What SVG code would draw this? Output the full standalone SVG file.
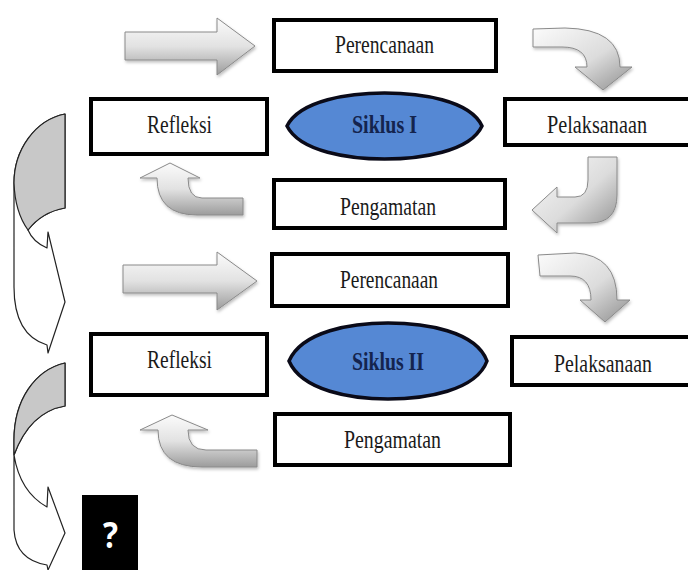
<svg xmlns="http://www.w3.org/2000/svg" width="688" height="570" viewBox="0 0 688 570">
  <defs>
    <linearGradient id="gv" x1="0" y1="0" x2="0" y2="1">
      <stop offset="0" stop-color="#fbfbfb"/>
      <stop offset="0.5" stop-color="#e2e2e2"/>
      <stop offset="1" stop-color="#9c9c9c"/>
    </linearGradient>
    <linearGradient id="gd" x1="0" y1="0" x2="1" y2="1">
      <stop offset="0" stop-color="#fbfbfb"/>
      <stop offset="0.55" stop-color="#dcdcdc"/>
      <stop offset="1" stop-color="#8f8f8f"/>
    </linearGradient>
    <filter id="sh" x="-20%" y="-20%" width="140%" height="150%">
      <feDropShadow dx="1" dy="2" stdDeviation="1.5" flood-color="#000" flood-opacity="0.25"/>
    </filter>
  </defs>
  <style>
    .box { fill: #ffffff; stroke: #000000; stroke-width: 4; }
    .lbl { font-family: "Liberation Serif", "Times New Roman", serif; font-size: 25px; fill: #1a1a1a; }
    .cyc { fill: #5588d4; stroke: #0a0a18; stroke-width: 3.5; }
    .cyct { font-family: "Liberation Serif", "Times New Roman", serif; font-size: 25px; font-weight: bold; fill: #14244e; }
    .blk { stroke: #8a8a8a; stroke-width: 1; stroke-linejoin: round; filter: url(#sh); }
    .side { fill: #ffffff; stroke: #222222; stroke-width: 1.2; stroke-linejoin: round; }
    .back { fill: #c8c8c8; stroke: #222222; stroke-width: 1.2; stroke-linejoin: round; }
  </style>
  <rect width="688" height="570" fill="#ffffff"/>

  <g id="connectors">
    <path class="blk" fill="url(#gv)" d="M125,32 L217,32 L217,18 L255,46 L217,75 L217,60 L125,60 Z"/>
    <path class="blk" fill="url(#gv)" d="M123,265 L217,265 L217,252 L257,281 L217,310 L217,293 L123,293 Z"/>
    <path class="blk" fill="url(#gd)" d="M533,29 L565,28 Q620,29 620,67 L632,67 L603,90 L575,67 L587,67 Q587,47 562,47 L533,47 Z"/>
    <path class="blk" fill="url(#gd)" d="M538,255 L575,253 Q617,255 617,300 L630,300 L605,322 L580,300 L591,300 Q591,276 570,276 L540,276 Z"/>
    <path class="blk" fill="url(#gd)" d="M588,157 L617,157 L617,195 Q617,223 590,223 L557,223 L557,233 L532,210 L557,187 L557,197 L575,197 Q588,197 588,180 Z"/>
    <path class="blk" fill="url(#gv)" d="M243,198 L202,198 Q188,198 188,178 L200,178 L170,163 L140,178 L157,178 Q157,215 197,215 L243,215 Z"/>
    <path class="blk" fill="url(#gv)" d="M257,450 L206,450 Q188,450 188,430 L208,430 L172,415 L140,430 L158,430 Q158,467 202,467 L257,467 Z"/>
    <path class="side" d="M65,114 C35,120 14,150 14,183 L14,287 Q14,335 47,345 L48,353 L65,302 L48,232 L47,248 Q33,242 28,230 Q42,212 65,208 Z"/>
    <path class="back" d="M65,114 C35,120 14,150 14,183 Q15,212 28,230 Q42,212 65,208 Z"/>
    <path class="side" d="M65,363 C35,370 14,400 14,440 L14,530 Q16,560 47,565 L48,570 L65,533 L48,487 L47,507 Q20,492 14,455 Q30,412 65,406 Z"/>
    <path class="back" d="M65,363 C35,370 14,400 14,440 L14,455 Q30,412 65,406 Z"/>
  </g>

  <g id="perencanaan-1">
    <rect class="box" x="274" y="20" width="222" height="51"/>
    <text class="lbl" x="335" y="53" textLength="99" lengthAdjust="spacingAndGlyphs">Perencanaan</text>
  </g>
  <g id="refleksi-1">
    <rect class="box" x="91" y="99" width="176" height="55"/>
    <text class="lbl" x="147" y="133" textLength="65" lengthAdjust="spacingAndGlyphs">Refleksi</text>
  </g>
  <g id="siklus-1">
    <path class="cyc" d="M287,126 C300,100 350,93 384.5,93 C420,93 470,100 482,126 C470,152 420,159 384.5,159 C350,159 300,152 287,126 Z"/>
    <text class="cyct" x="352" y="133" textLength="65" lengthAdjust="spacingAndGlyphs">Siklus I</text>
  </g>
  <g id="pelaksanaan-1">
    <rect class="box" x="505" y="99" width="190" height="46"/>
    <text class="lbl" x="547" y="133" textLength="100" lengthAdjust="spacingAndGlyphs">Pelaksanaan</text>
  </g>
  <g id="pengamatan-1">
    <rect class="box" x="274" y="180" width="231" height="48"/>
    <text class="lbl" x="340" y="215" textLength="96" lengthAdjust="spacingAndGlyphs">Pengamatan</text>
  </g>

  <g id="perencanaan-2">
    <rect class="box" x="272" y="254" width="236" height="52"/>
    <text class="lbl" x="340" y="288" textLength="98" lengthAdjust="spacingAndGlyphs">Perencanaan</text>
  </g>
  <g id="refleksi-2">
    <rect class="box" x="91" y="334" width="176" height="61"/>
    <text class="lbl" x="147" y="368" textLength="65" lengthAdjust="spacingAndGlyphs">Refleksi</text>
  </g>
  <g id="siklus-2">
    <path class="cyc" d="M289,361 C302,331 352,323 388,323 C425,323 476,331 487,361 C476,391 425,399 388,399 C352,399 302,391 289,361 Z"/>
    <text class="cyct" x="352" y="370" textLength="72" lengthAdjust="spacingAndGlyphs">Siklus II</text>
  </g>
  <g id="pelaksanaan-2">
    <rect class="box" x="512" y="337" width="183" height="48"/>
    <text class="lbl" x="554" y="372" textLength="98" lengthAdjust="spacingAndGlyphs">Pelaksanaan</text>
  </g>
  <g id="pengamatan-2">
    <rect class="box" x="275" y="414" width="235" height="51"/>
    <text class="lbl" x="344" y="448" textLength="97" lengthAdjust="spacingAndGlyphs">Pengamatan</text>
  </g>

  <g id="next">
    <rect x="82" y="495" width="56" height="80" fill="#000000"/>
    <text x="103" y="548" font-family="'Open Sans', 'Noto Sans', sans-serif" font-weight="bold" font-size="36" fill="#ffffff" textLength="15" lengthAdjust="spacingAndGlyphs">?</text>
  </g>
</svg>
